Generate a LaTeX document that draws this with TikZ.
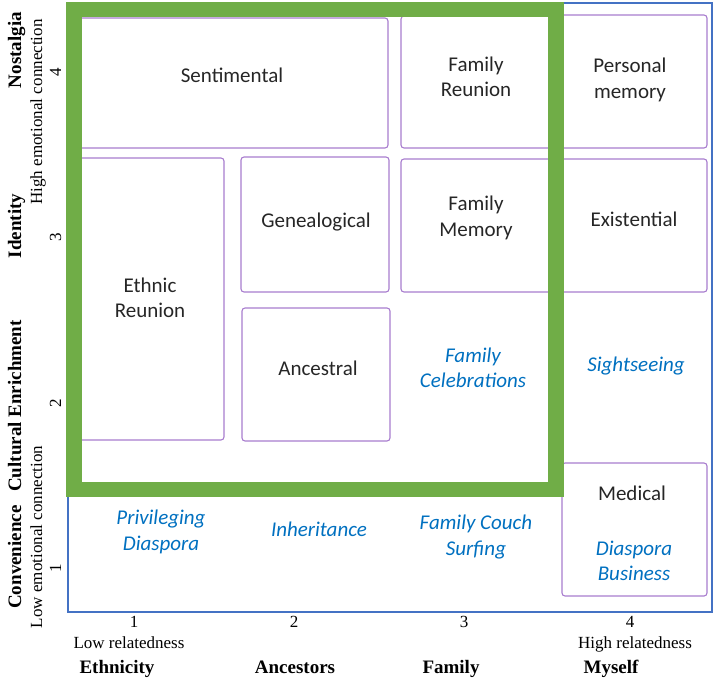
\documentclass[tikz,border=0pt]{standalone}
\usepackage{fontspec}
\setmainfont{Liberation Serif}
\newfontfamily\cellfont{Carlito}
\definecolor{boxpurple}{RGB}{168,124,206}
\definecolor{framegreen}{RGB}{112,173,71}
\definecolor{frameblue}{RGB}{68,114,196}
\definecolor{tagblue}{RGB}{0,112,192}
\begin{document}
\begin{tikzpicture}[x=1pt,y=-1pt,
  cell/.style={draw=boxpurple, line width=1.1pt, rounded corners=3pt, inner sep=0pt},
  word/.style={align=center, inner sep=0pt, text=black!85, font=\cellfont\fontsize{21}{25.5}\selectfont},
  tag/.style={align=center, inner sep=0pt, text=tagblue, font=\cellfont\itshape\fontsize{21}{25.5}\selectfont},
  tick/.style={inner sep=0pt, anchor=base, font=\fontsize{17}{20}\selectfont},
  dim/.style={inner sep=0pt, anchor=base, font=\bfseries\fontsize{19}{22}\selectfont}]
\useasboundingbox (0,0) rectangle (716,678);

% outer frame
\draw[frameblue, line width=2pt] (68,3) rectangle (712,612);

% cells
\node[cell, minimum width=309, minimum height=130] (sent) at (233.5,83) {};
\node[cell, minimum width=151, minimum height=132] (famreu) at (476.5,82) {};
\node[cell, minimum width=147, minimum height=133] (persmem) at (633.5,81.5) {};
\node[cell, minimum width=145, minimum height=282] (ethnic) at (151.5,299) {};
\node[cell, minimum width=148, minimum height=135] (geneal) at (315,224.5) {};
\node[cell, minimum width=151, minimum height=133] (fammem) at (476.5,225.5) {};
\node[cell, minimum width=147, minimum height=133] (exist) at (633.5,225.5) {};
\node[cell, minimum width=148, minimum height=133] (ancest) at (316,374.5) {};
\node[cell, minimum width=145, minimum height=133] (medical) at (634.5,529.5) {};

\node[word] (sentT) at (232,75) {Sentimental};
\node[word] (famreuT) at (476,77) {Family\\Reunion};
\node[word] (persmemT) at (630,80) {Personal\\memory};
\node[word] (ethnicT) at (150,298) {Ethnic\\Reunion};
\node[word] (genealT) at (316,222) {Genealogical};
\node[word] (fammemT) at (476,218) {Family\\Memory};
\node[word] (existT) at (634,219) {Existential};
\node[word] (ancestT) at (318,368) {Ancestral};
\node[word] (medicalT) at (632,493) {Medical};

\node[tag] (celeb) at (473,368) {Family\\Celebrations};
\node[tag] (sights) at (636,366) {Sightseeing};
\node[tag] (privil) at (161,532) {Privileging\\Diaspora};
\node[tag] (inherit) at (319,529) {Inheritance};
\node[tag] (couch) at (476,537) {Family Couch\\Surfing};
\node[tag] (business) at (634,561) {Diaspora\\Business};

% green focus frame
\draw[framegreen, line width=15.5pt] (74,9.5) rectangle (556,489.5);

% vertical axis
\node[dim, rotate=90] (nost) at (21,50) {Nostalgia};
\node[dim, rotate=90] (ident) at (21,226) {Identity};
\node[dim, rotate=90] (cult) at (21,406) {Cultural Enrichment};
\node[dim, rotate=90] (conv) at (21,557) {Convenience};
\node[tick, rotate=90] (highemo) at (42,112) {High emotional connection};
\node[tick, rotate=90] (lowemo) at (42,537) {Low emotional connection};
\node[tick, rotate=90] (y4) at (61,72) {4};
\node[tick, rotate=90] (y3) at (61,237) {3};
\node[tick, rotate=90] (y2) at (61,403) {2};
\node[tick, rotate=90] (y1) at (61,568) {1};

% horizontal axis
\node[tick] (x1) at (134,627) {1};
\node[tick] (x2) at (294,627) {2};
\node[tick] (x3) at (464,627) {3};
\node[tick] (x4) at (630,627) {4};
\node[tick] (lowrel) at (129,648) {Low relatedness};
\node[tick] (highrel) at (635,648) {High relatedness};
\node[dim] (ethn) at (117,673) {Ethnicity};
\node[dim] (ances) at (295,673) {Ancestors};
\node[dim] (fam) at (451,673) {Family};
\node[dim] (myself) at (611,673) {Myself};
\end{tikzpicture}
\end{document}
